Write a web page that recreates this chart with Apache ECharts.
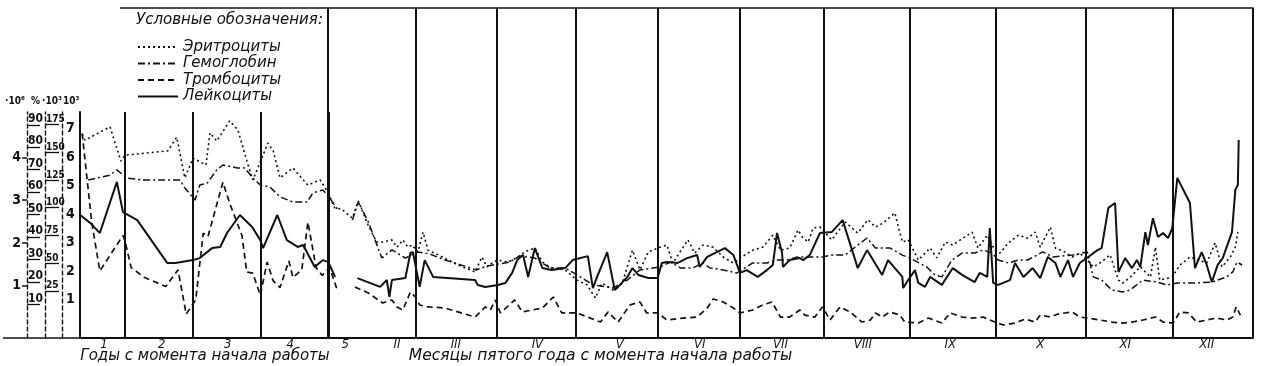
<!DOCTYPE html>
<html>
<head>
<meta charset="utf-8">
<script src="https://cdn.jsdelivr.net/npm/echarts@6/dist/echarts.min.js"></script>
<style>
  html, body { margin: 0; padding: 0; background: #fff; }
  #chart { width: 1262px; height: 366px; }
</style>
</head>
<body>
<div id="chart"></div>
<script>
// --- годы с момента начала работы (левая часть) ---
const eryYearX = [0.37,0.41,0.78,0.94,1.00,1.63,1.76,1.88,2.00,2.19,2.25,2.35,2.54,2.66,2.81,2.88,3.03,3.10,3.18,3.28,3.47,3.69,3.87,3.99]
const eryYear = [4.54,4.40,4.71,3.91,4.05,4.15,4.47,3.52,3.98,3.82,4.57,4.38,4.85,4.64,3.82,3.47,4.05,4.33,4.15,3.52,3.75,3.35,3.47,3.17]

const hbYearX = [0.46,0.78,0.88,1.03,1.26,1.81,1.88,2.03,2.10,2.21,2.35,2.44,2.65,2.76,2.88,2.99,3.13,3.28,3.47,3.68,3.76,3.91,4.01,4.13]
const hbYear = [65.4,67.6,69.9,66.3,65.4,65.4,61.9,56.5,63.2,64.1,69.9,72.1,70.8,70.8,66.3,63.2,62.3,57.9,55.6,55.6,59.6,61.0,57.4,52.1]

const pltYearX = [0.37,0.51,0.63,0.97,1.00,1.09,1.29,1.60,1.78,1.90,2.04,2.15,2.22,2.44,2.54,2.72,2.79,2.88,2.99,3.09,3.18,3.28,3.41,3.47,3.60,3.69,3.81,3.90,4.01,4.12]
const pltYear = [167,87,43,75,70,46,37,29,44,4,17,77,74,123,104,75,42,41,21,51,34,28,52,37,44,87,46,39,46,26]

const leuYearX = [0.34,0.51,0.56,0.63,0.88,0.97,1.18,1.62,1.74,2.00,2.10,2.28,2.40,2.50,2.69,2.87,2.99,3.03,3.24,3.38,3.54,3.62,3.79,3.91,3.99,4.09]
const leuYear = [3.97,3.65,3.51,3.34,5.13,4.07,3.79,2.29,2.29,2.39,2.46,2.81,2.85,3.34,3.97,3.55,3.09,2.81,3.97,3.09,2.85,2.92,2.15,2.39,2.32,1.80]

// --- месяцы пятого года (правая часть) ---
const eryMonthX = [1.00,1.08,1.16,1.29,1.36,1.48,1.58,1.65,1.76,1.82,1.89,1.95,2.00,2.07,2.13,2.19,2.31,2.55,2.75,2.83,
  2.89,2.95,3.02,3.14,3.26,3.34,3.46,3.55,3.66,3.82,3.96,4.08,4.18,4.26,4.39,4.50,4.62,4.71,4.81,4.95,
  5.03,5.10,5.28,5.36,5.46,5.58,5.70,5.82,5.92,6.05,6.17,6.29,6.38,6.49,6.59,6.64,6.71,6.77,6.85,6.99,
  7.15,7.30,7.42,7.51,7.60,7.74,7.83,7.90,8.02,8.16,8.24,8.34,8.43,8.52,8.66,8.73,8.84,8.93,8.99,9.09,
  9.21,9.32,9.41,9.47,9.59,9.65,9.76,9.85,9.94,10.03,10.10,10.18,10.30,10.40,10.45,10.54,10.66,10.78,10.84,10.89,
  11.04,11.13,11.25,11.45,11.55,11.63,11.73,11.79,11.82]
const eryMonth = [3.17,2.82,2.79,2.58,2.98,2.40,2.02,2.02,2.07,1.90,2.07,1.90,1.95,1.79,2.25,1.83,1.72,1.48,1.32,1.67,
  1.44,1.53,1.60,1.55,1.67,1.79,1.88,1.55,1.41,1.37,1.13,1.02,0.71,1.06,0.90,1.06,1.83,1.37,1.79,1.90,
  1.95,1.53,2.07,1.76,1.95,1.90,1.67,1.53,1.67,1.83,1.90,2.18,1.83,1.88,2.30,2.14,2.02,2.35,2.37,2.07,
  2.49,2.23,2.54,2.37,2.46,2.70,2.02,2.07,1.60,1.88,1.65,2.02,1.95,2.07,2.25,1.88,2.18,1.83,1.76,2.00,
  2.18,2.11,2.25,1.90,2.37,1.88,1.79,1.67,1.76,1.60,1.44,1.53,1.72,1.13,1.06,1.20,1.44,1.20,1.90,1.13,
  1.20,1.48,1.67,1.53,2.00,1.44,1.67,1.90,2.25]

const hbMonthX = [1.29,1.36,1.48,1.64,1.76,1.92,2.07,2.21,2.39,2.55,2.76,2.89,3.02,3.16,3.28,3.46,3.64,3.82,4.00,4.15,
  4.39,4.56,4.71,4.95,5.07,5.19,5.34,5.46,5.54,5.70,5.86,5.92,6.05,6.22,6.34,6.46,6.58,6.71,6.88,6.99,
  7.15,7.27,7.41,7.51,7.68,7.83,7.92,8.12,8.22,8.30,8.42,8.54,8.69,8.79,8.90,8.97,9.09,9.21,9.32,9.50,
  9.62,9.86,10.03,10.10,10.20,10.32,10.45,10.54,10.69,10.86,10.98,11.10,11.33,11.51,11.69,11.76,11.81,11.87]
const hbMonth = [47.6,55.6,46.7,30.7,34.3,30.7,33.4,32.5,29.8,28.0,25.4,27.1,28.0,28.9,31.6,30.7,26.3,26.3,22.3,18.7,
  17.4,20.9,25.4,26.7,28.9,26.3,26.3,28.5,26.3,25.4,24.0,25.4,28.5,28.5,29.8,29.8,31.2,31.2,31.2,32.0,
  32.0,35.6,39.6,35.2,35.2,32.0,30.7,26.7,23.1,22.3,29.8,32.9,32.9,34.3,32.9,29.8,28.5,29.8,29.8,33.4,
  31.2,32.0,33.4,22.3,20.9,16.5,15.6,16.5,20.9,20.0,18.7,19.6,19.6,20.0,22.3,24.5,28.9,27.6]

const pltMonthX = [1.32,1.48,1.65,1.76,1.82,1.89,1.98,2.04,2.09,2.19,2.39,2.75,2.87,2.93,2.99,3.05,3.22,3.31,3.55,3.68,
  3.78,3.96,4.24,4.33,4.45,4.59,4.71,4.79,4.92,5.03,5.22,5.39,5.51,5.58,5.70,5.82,5.90,6.05,6.17,6.28,
  6.38,6.49,6.61,6.67,6.79,6.88,6.97,7.09,7.21,7.35,7.45,7.51,7.59,7.68,7.80,7.86,8.02,8.14,8.30,8.40,
  8.54,8.66,8.79,8.93,9.03,9.17,9.29,9.41,9.47,9.59,9.68,9.85,9.94,10.03,10.18,10.32,10.44,10.57,10.69,10.84,
  10.93,11.05,11.13,11.23,11.33,11.45,11.57,11.69,11.76,11.80,11.85]
const pltMonth = [28.5,23.1,14.1,16.8,10.5,7.8,24.0,19.5,12.3,10.5,9.6,1.4,10.5,7.8,16.8,5.1,16.8,6.0,9.6,19.5,
  5.1,5.1,-3.1,6.0,-3.1,12.3,15.0,5.1,5.1,-1.3,0.5,1.4,9.6,17.7,15.0,9.6,5.1,7.8,12.3,15.0,
  1.4,1.4,7.8,3.2,1.4,10.5,-1.3,10.5,6.0,-3.1,-1.3,5.1,1.4,6.0,3.2,-3.1,-4.0,0.5,-4.0,5.1,
  1.4,0.5,1.4,-3.1,-5.8,-4.0,-0.4,-3.1,3.2,1.4,4.1,6.0,1.4,0.5,-1.3,-3.1,-4.0,-3.1,-1.3,1.4,
  -3.1,-4.0,6.0,5.1,-3.1,-1.3,0.5,-1.3,1.4,10.5,3.2]

const leuMonthX = [1.35,1.62,1.70,1.73,1.76,1.92,1.98,2.01,2.09,2.15,2.25,2.75,2.78,2.87,3.02,3.11,3.19,3.25,3.32,3.38,
  3.46,3.55,3.66,3.82,3.91,4.09,4.15,4.20,4.32,4.41,4.45,4.56,4.62,4.69,4.81,4.92,4.97,5.03,5.16,5.27,
  5.39,5.42,5.51,5.72,5.82,5.90,5.98,6.11,6.22,6.29,6.34,6.40,6.41,6.49,6.61,6.65,6.73,6.85,6.99,7.12,
  7.30,7.41,7.59,7.66,7.83,7.84,7.90,7.98,8.02,8.10,8.16,8.30,8.43,8.54,8.69,8.75,8.84,8.87,8.91,8.97,
  9.11,9.17,9.27,9.38,9.47,9.56,9.65,9.71,9.80,9.86,9.94,10.04,10.15,10.20,10.28,10.36,10.40,10.48,10.56,10.62,
  10.66,10.72,10.75,10.81,10.87,10.93,10.99,11.04,11.10,11.25,11.31,11.39,11.45,11.51,11.58,11.64,11.75,11.79,11.82,11.83]
const leuMonth = [1.76,1.45,1.69,1.10,1.69,1.76,2.64,2.67,1.45,2.39,1.80,1.69,1.52,1.45,1.52,1.59,1.94,2.39,2.57,1.80,
  2.81,2.11,2.04,2.11,2.39,2.53,1.41,1.80,2.67,1.34,1.45,1.80,2.11,1.87,1.76,1.76,2.29,2.32,2.29,2.46,
  2.57,2.15,2.50,2.81,2.57,1.94,2.04,1.80,2.04,2.22,3.34,2.64,2.15,2.39,2.46,2.39,2.57,3.34,3.37,3.79,
  2.11,2.74,1.87,2.39,1.80,1.41,1.69,2.04,1.59,1.45,1.80,1.52,2.11,1.87,1.62,1.94,1.80,3.51,1.59,1.52,
  1.69,2.29,1.80,2.11,1.76,2.50,2.29,1.80,2.39,1.80,2.29,2.50,2.74,2.81,4.22,4.39,1.97,2.46,2.11,2.39,
  2.15,3.37,2.92,3.86,3.20,3.34,3.16,3.51,5.27,4.39,2.11,2.67,2.22,1.62,2.22,2.46,3.37,4.85,5.02,6.60]

// --- границы и подписи ---
const yearLines = [1, 2, 3, 4]
const monthLines = [1.000, 2.035, 3.010, 3.949, 4.924, 5.900, 6.893, 7.921, 8.944, 10.008, 11.043, 12.000]
const yearLabelPos = [0.69, 1.54, 2.51, 3.43, 4.24]
const yearLabels = ['1', '2', '3', '4', '5']
const monthLabelPos = [1.82, 2.52, 3.49, 4.47, 5.42, 6.38, 7.36, 8.40, 9.47, 10.48, 11.45]
const monthLabels = ['II', 'III', 'IV', 'V', 'VI', 'VII', 'VIII', 'IX', 'X', 'XI', 'XII']

const eryTicks = [1, 2, 3, 4]
const hbTicks = [10, 20, 30, 40, 50, 60, 70, 80, 90]
const pltTicks = [25, 50, 75, 100, 125, 150, 175]
const leuTicks = [1, 2, 3, 4, 5, 6, 7]

const names = ['Эритроциты', 'Гемоглобин', 'Тромбоциты', 'Лейкоциты']

// диапазоны шкал: низ сетки, верх левой части, верх правой части
const ranges = {
    ery: [-0.222, 5.058, 7.488],
    hb: [-4.9, 95.68, 141.97],
    plt: [-17.5, 186.36, 280.17],
    leu: [-0.34, 7.579, 11.223],
}

const font = "'DejaVu Sans Condensed', 'DejaVu Sans', sans-serif"
const wideFont = "'DejaVu Sans', sans-serif"
const ink = '#111'

const pairs = (xs, ys) => xs.map((x, i) => [x, ys[i]])
const nearest = (arr, v) => arr.reduce((b, a, i) => Math.abs(a - v) < Math.abs(arr[b] - v) ? i : b, 0)

const styles = {
    ery: { color: ink, width: 1.6, type: [2, 3] },
    hb: { color: ink, width: 1.5, type: [7, 3, 2, 3] },
    plt: { color: ink, width: 1.7, type: [6, 4] },
    leu: { color: ink, width: 2, type: 'solid' },
}

const leftAxis = (key, offset, extra) => Object.assign({
    gridIndex: 0,
    type: 'value',
    position: 'left',
    offset: offset,
    min: ranges[key][0],
    max: ranges[key][1],
    splitLine: { show: false },
    axisLine: { show: true, lineStyle: { color: ink, width: 1.4, type: [4, 3] } },
    nameLocation: 'end',
    nameGap: 6,
}, extra)

const hiddenAxis = (key) => ({
    gridIndex: 1,
    type: 'value',
    show: false,
    min: ranges[key][0],
    max: ranges[key][2],
    splitLine: { show: false },
})

const yAxis = [
    leftAxis('ery', 53, {
        axisTick: { show: true, customValues: eryTicks, length: 5, lineStyle: { color: ink, width: 1.5 } },
        axisLabel: { customValues: eryTicks, margin: 6, fontSize: 14, fontWeight: 'bold', color: ink, fontFamily: font },
        name: '·10⁶',
        nameTextStyle: { align: 'right', padding: [0, 2, 0, 0], color: ink, fontSize: 10, fontWeight: 'bold', fontFamily: font },
    }),
    leftAxis('hb', 53, {
        axisLine: { show: false },
        axisTick: { show: true, inside: true, customValues: hbTicks, length: 13, lineStyle: { color: ink, width: 1.3 } },
        axisLabel: { inside: true, customValues: hbTicks, margin: 1, verticalAlign: 'bottom', fontSize: 12, fontWeight: 'bold', color: ink, fontFamily: font },
        name: '%',
        nameTextStyle: { align: 'left', padding: [0, 0, 0, 4], color: ink, fontSize: 10, fontWeight: 'bold', fontFamily: font },
    }),
    leftAxis('plt', 35, {
        axisTick: { show: true, inside: true, customValues: pltTicks, length: 14, lineStyle: { color: ink, width: 1.3 } },
        axisLabel: { inside: true, customValues: pltTicks, margin: 1, verticalAlign: 'bottom', fontSize: 10, fontWeight: 'bold', color: ink, fontFamily: font },
        name: '·10³',
        nameTextStyle: { align: 'left', padding: [0, 0, 0, -3], color: ink, fontSize: 10, fontWeight: 'bold', fontFamily: font },
    }),
    leftAxis('leu', 18, {
        axisTick: { show: false },
        axisLabel: { inside: true, customValues: leuTicks, margin: 4, fontSize: 14, fontWeight: 'bold', color: ink, fontFamily: font },
        name: '10³',
        nameTextStyle: { align: 'left', padding: [0, 0, 0, 1], color: ink, fontSize: 10, fontWeight: 'bold', fontFamily: font },
    }),
    {
        gridIndex: 0, type: 'value', position: 'left', offset: 0, min: 0, max: 1,
        splitLine: { show: false }, axisTick: { show: false }, axisLabel: { show: false },
        axisLine: { show: true, lineStyle: { color: ink, width: 2 } },
    },
    hiddenAxis('ery'), hiddenAxis('hb'), hiddenAxis('plt'), hiddenAxis('leu'),
]

const labelStyle = { color: ink, fontFamily: font, fontStyle: 'italic' }
const titleStyle = { color: ink, fontFamily: wideFont, fontStyle: 'italic' }

const xAxis = [
    {
        gridIndex: 0, type: 'value', min: 0.338, max: 4.309,
        splitLine: { show: false }, axisTick: { show: false },
        axisLine: { onZero: false, lineStyle: { color: ink, width: 2 } },
        axisLabel: Object.assign({
            customValues: yearLabelPos, margin: 0, fontSize: 13,
            formatter: (v) => yearLabels[nearest(yearLabelPos, v)],
        }, labelStyle),
        name: 'Годы с момента начала работы', nameLocation: 'middle', nameGap: 11, nameMoveOverlap: false,
        nameTextStyle: Object.assign({ fontSize: 15, padding: [0, 20, 0, 0] }, titleStyle),
    },
    {
        gridIndex: 1, type: 'value', min: 1, max: 12,
        splitLine: { show: false }, axisTick: { show: false },
        axisLine: { onZero: false, lineStyle: { color: ink, width: 2 } },
        axisLabel: Object.assign({
            customValues: monthLabelPos, margin: 0, fontSize: 13,
            formatter: (v) => monthLabels[nearest(monthLabelPos, v)],
        }, labelStyle),
        name: 'Месяцы пятого года с момента начала работы', nameLocation: 'middle', nameGap: 10, nameMoveOverlap: false,
        nameTextStyle: Object.assign({ fontSize: 15.5, padding: [0, 380, 0, 0] }, titleStyle),
    },
    {
        gridIndex: 1, type: 'value', min: 1, max: 12, position: 'top',
        splitLine: { show: false }, axisTick: { show: false }, axisLabel: { show: false },
        axisLine: { onZero: false, lineStyle: { color: ink, width: 1.5 } },
    },
]

const boundaryLines = (values) => ({
    silent: true,
    symbol: ['none', 'none'],
    label: { show: false },
    lineStyle: { color: ink, type: 'solid', width: 2 },
    data: values.map((v) => ({ xAxis: v })),
})

const lineSeries = (name, key, grid, xs, ys, yIndex, extra) => Object.assign({
    name: name,
    type: 'line',
    xAxisIndex: grid,
    yAxisIndex: yIndex,
    data: pairs(xs, ys),
    symbol: 'none',
    silent: true,
    lineStyle: styles[key],
    itemStyle: { color: ink },
}, extra)

const series = [
    lineSeries(names[0], 'ery', 0, eryYearX, eryYear, 0),
    lineSeries(names[1], 'hb', 0, hbYearX, hbYear, 1),
    lineSeries(names[2], 'plt', 0, pltYearX, pltYear, 2),
    lineSeries(names[3], 'leu', 0, leuYearX, leuYear, 3, { markLine: boundaryLines(yearLines) }),
    lineSeries(names[0], 'ery', 1, eryMonthX, eryMonth, 5),
    lineSeries(names[1], 'hb', 1, hbMonthX, hbMonth, 6),
    lineSeries(names[2], 'plt', 1, pltMonthX, pltMonth, 7),
    lineSeries(names[3], 'leu', 1, leuMonthX, leuMonth, 8, { markLine: boundaryLines(monthLines) }),
]

const chart = echarts.init(document.getElementById('chart'))
chart.setOption({
    animation: false,
    backgroundColor: '#fff',
    title: {
        text: 'Условные обозначения:',
        left: 131, top: 8,
        textStyle: Object.assign({ fontSize: 15, fontWeight: 'normal' }, titleStyle),
    },
    legend: {
        data: names,
        orient: 'vertical',
        left: 132, top: 34,
        itemWidth: 40, itemHeight: 12, itemGap: 0.5,
        itemStyle: { opacity: 0 },
        textStyle: Object.assign({ fontSize: 15, lineHeight: 16 }, titleStyle),
        selectedMode: false,
    },
    grid: [
        { left: 80, top: 112, width: 270, bottom: 28, containLabel: false, outerBoundsMode: 'none' },
        { left: 328, top: 8, width: 925, bottom: 28, containLabel: false, outerBoundsMode: 'none' },
    ],
    xAxis: xAxis,
    yAxis: yAxis,
    series: series,
    graphic: [
        { type: 'line', silent: true, shape: { x1: 120, y1: 8, x2: 328, y2: 8 }, style: { stroke: ink, lineWidth: 1.5 } },
        { type: 'line', silent: true, shape: { x1: 3, y1: 338, x2: 80, y2: 338 }, style: { stroke: ink, lineWidth: 1.5 } },
    ],
})
</script>
</body>
</html>
